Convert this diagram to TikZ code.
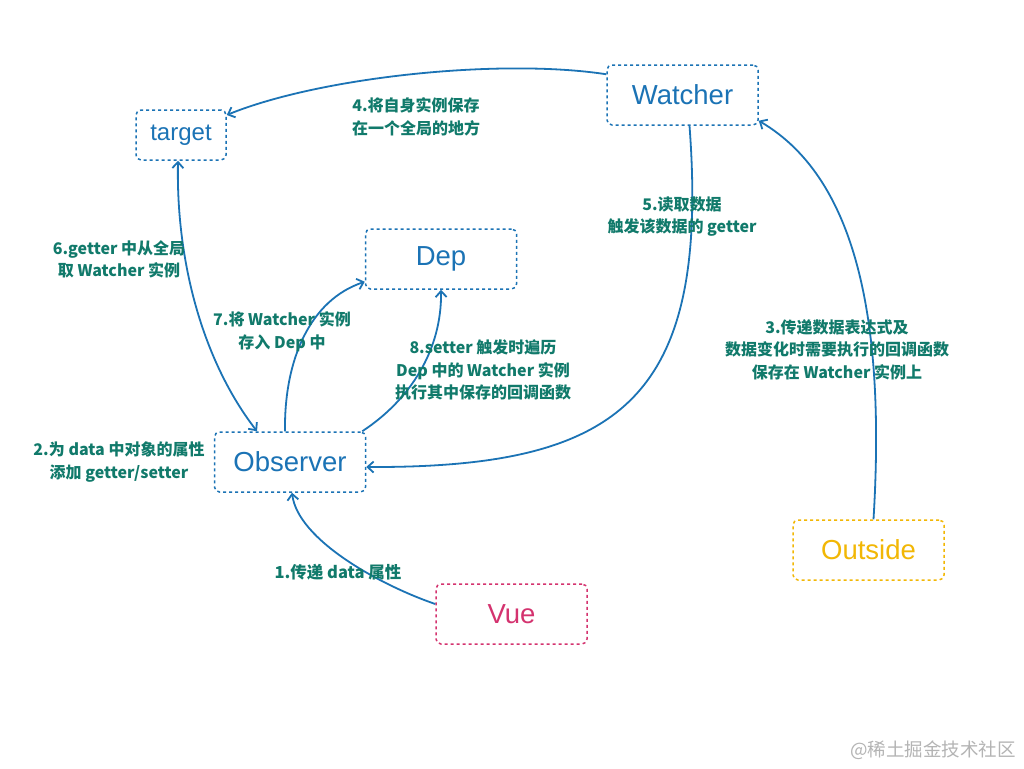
\documentclass[tikz,border=0pt]{standalone}
\usepackage{fontspec}
\setmainfont{Liberation Sans}
\newfontfamily\cjk{Noto Sans CJK SC}
\usetikzlibrary{arrows.meta}
\definecolor{vblue}{HTML}{1B73B5}
\definecolor{vteal}{HTML}{117A6B}
\definecolor{vpink}{HTML}{D4336F}
\definecolor{vyellow}{HTML}{F2B705}
\definecolor{vgray}{HTML}{B4B4B4}
\begin{document}
\begin{tikzpicture}[x=1pt,y=-1pt,
  box/.style={draw=#1, text=#1, line width=1.5pt, dash pattern=on 3pt off 3pt,
    rounded corners=5pt, minimum width=151pt, minimum height=60pt,
    font=\fontsize{27.5}{30}\selectfont, inner sep=0pt},
  lbl/.style={text=vteal, align=center, font=\cjk\bfseries\fontsize{16}{22.5}\selectfont},
  conn/.style={draw=vblue, line width=1.8pt},
  tip/.tip={Straight Barb[length=6pt,width=11pt]}
]
\useasboundingbox[fill=white] (0,0) rectangle (1024,768);
% nodes
\node[box=vblue, minimum width=90pt, minimum height=50pt, font=\fontsize{24}{26}\selectfont] (T) at (181,135) {target};
\node[box=vblue] (W) at (682.5,95) {Watcher};
\node[box=vblue] (D) at (441,259) {Dep};
\node[box=vblue] (O) at (290,462) {Observer};
\node[box=vpink] (V) at (511.5,614) {Vue};
\node[box=vyellow] (U) at (868.5,550) {Outside};
% connectors
\draw[conn,-tip] ([yshift=10pt]V.west) .. controls (380,585) and (298,540) .. ([xshift=2pt]O.south);
\draw[conn,-tip] ([xshift=5pt]U.north) .. controls (885,330) and (860,180) .. ([yshift=5pt]W.south east);
\draw[conn,-tip] ([yshift=-10pt]W.north west) .. controls (500,58) and (320,77) .. ([yshift=20pt]T.east);
\draw[conn,-tip] ([xshift=7pt]W.south) .. controls (710,400) and (620,468) .. ([yshift=-5pt]O.east);
\draw[conn,tip-tip] ([xshift=-3pt]T.south) .. controls (176,260) and (202,360) .. ([xshift=-33pt]O.north);
\draw[conn,-tip] ([xshift=-5pt]O.north) .. controls (284,360) and (310,300) .. ([yshift=8pt]D.south west);
\draw[conn,-tip] ([xshift=-4pt]O.north east) .. controls (410,400) and (442,350) .. (D.south);
% labels
\node[lbl] (l4) at (416,117) {4.将自身实例保存\\在一个全局的地方};
\node[lbl] (l5) at (682,216.5) {5.读取数据\\触发该数据的 getter};
\node[lbl] (l3) at (837,349.5) {3.传递数据表达式及\\数据变化时需要执行的回调函数\\保存在 Watcher 实例上};
\node[lbl] (l6) at (119,259.5) {6.getter 中从全局\\取 Watcher 实例};
\node[lbl] (l7) at (282,331.5) {7.将 Watcher 实例\\存入 Dep 中};
\node[lbl] (l8) at (483,370) {8.setter 触发时遍历\\Dep 中的 Watcher 实例\\执行其中保存的回调函数};
\node[lbl] (l2) at (119,462) {2.为 data 中对象的属性\\添加 getter/setter};
\node[lbl, font=\cjk\bfseries\fontsize{16.5}{22.5}\selectfont] (l1) at (338,572) {1.传递 data 属性};
\node[text=vgray, font=\cjk\fontsize{18.5}{20}\selectfont] (wm) at (933,750) {@稀土掘金技术社区};
\end{tikzpicture}
\end{document}
